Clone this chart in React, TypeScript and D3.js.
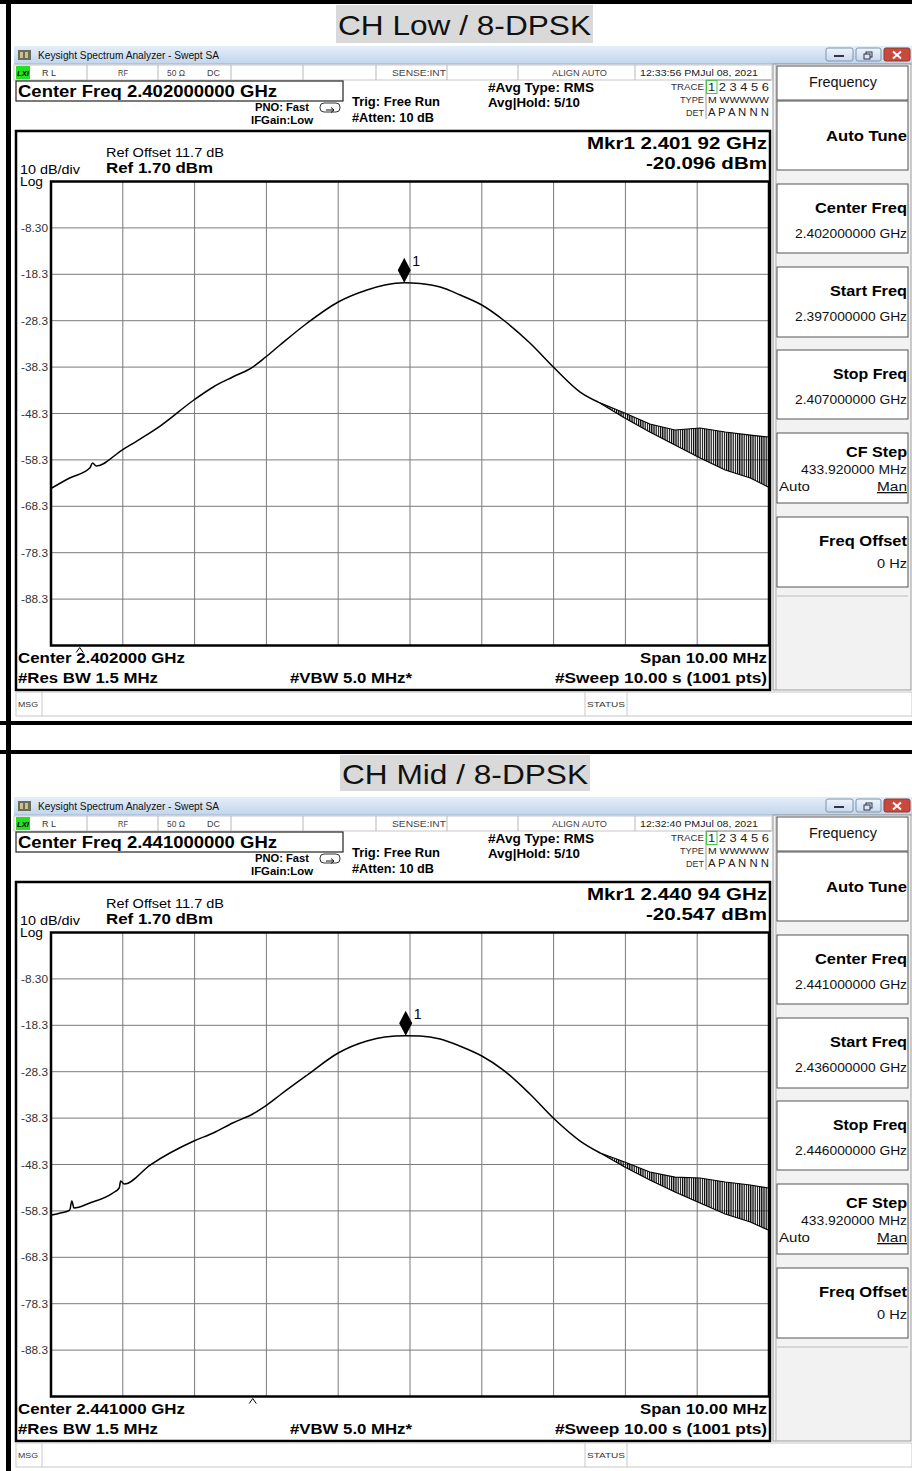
import React from "react";
import * as d3 from "d3";

const W = 912;
const H = 1471;
const PANEL_DY = 751;

// ---------- data ----------
const panelTitles = ["CH Low / 8-DPSK", "CH Mid / 8-DPSK"];
const centerFreqLabels = ["2.402000000 GHz", "2.441000000 GHz"];
const centerShortLabels = ["2.402000 GHz", "2.441000 GHz"];
const startFreqLabels = ["2.397000000 GHz", "2.436000000 GHz"];
const stopFreqLabels = ["2.407000000 GHz", "2.446000000 GHz"];
const timeStamps = ["12:33:56 PMJul 08, 2021", "12:32:40 PMJul 08, 2021"];
const markerFreqLabels = ["2.401 92 GHz", "2.440 94 GHz"];
const markerValueLabels = ["-20.096 dBm", "-20.547 dBm"];
const markerOffsetsMHz = [-0.08, -0.06];
const markerValues = [-20.096, -20.547];
const caretOffsetsMHz = [-4.6, -2.19];

const refLevel = 1.7;
const dbPerDiv = 10;
const yDivisions = 10;
const xDivisions = 10;
const spanMHz = 10;
const yTickLabels = ["-8.30", "-18.3", "-28.3", "-38.3", "-48.3", "-58.3", "-68.3", "-78.3", "-88.3"];

// CH Low trace (offset from centre in MHz, level in dBm)
const lowTraceMHz = [-4.99, -4.74, -4.46, -4.42, -4.37, -4.01, -3.76, -3.48, -3.01, -2.74, -2.47, -2.19, -2.01, -1.81, -1.43, -1.0, -0.6, -0.35, -0.08, 0.14, 0.42, 0.7, 1.0, 1.3, 1.67, 2.01, 2.37, 2.62];
const lowTraceDbm = [-64.36, -62.2, -60.05, -58.97, -59.61, -56.17, -53.8, -51.0, -45.39, -42.59, -40.43, -38.28, -36.13, -33.54, -28.8, -24.27, -21.68, -20.61, -20.1, -20.28, -21.04, -22.76, -24.92, -28.15, -33.11, -38.49, -43.67, -45.82];
const lowNoiseMHz = [2.62, 2.99, 3.34, 3.69, 4.04, 4.39, 4.74, 4.99];
const lowNoiseUpper = [-45.82, -48.19, -50.56, -51.86, -51.43, -52.29, -52.94, -53.37];
const lowNoiseLower = [-45.82, -49.27, -52.29, -55.09, -57.89, -60.48, -62.2, -64.14];

// CH Mid trace
const midTraceMHz = [-4.99, -4.87, -4.74, -4.71, -4.68, -4.46, -4.14, -4.05, -4.03, -3.98, -3.62, -3.01, -2.74, -2.47, -2.19, -2.01, -1.81, -1.43, -1.0, -0.6, -0.35, -0.06, 0.14, 0.42, 0.7, 1.0, 1.3, 1.67, 2.01, 2.37, 2.65];
const midTraceDbm = [-59.19, -58.76, -58.11, -56.17, -57.68, -56.6, -54.45, -53.37, -51.86, -52.5, -48.41, -43.24, -41.51, -39.36, -37.42, -35.69, -33.32, -29.01, -24.27, -21.69, -20.83, -20.55, -20.61, -21.25, -22.81, -24.92, -27.94, -33.11, -38.5, -43.24, -45.83];
const midNoiseMHz = [2.65, 2.99, 3.34, 3.69, 4.04, 4.39, 4.74, 4.99];
const midNoiseUpper = [-45.83, -47.76, -49.92, -51.0, -51.21, -52.07, -52.72, -53.37];
const midNoiseLower = [-45.83, -48.84, -51.64, -54.23, -56.6, -58.97, -60.7, -62.42];

const traceMHz = [lowTraceMHz, midTraceMHz];
const traceDbm = [lowTraceDbm, midTraceDbm];
const noiseMHz = [lowNoiseMHz, midNoiseMHz];
const noiseUpper = [lowNoiseUpper, midNoiseUpper];
const noiseLower = [lowNoiseLower, midNoiseLower];

// ---------- helpers ----------
type TP = {
  x: number; y: number; w?: number; s?: number; b?: boolean; a?: "start" | "middle" | "end";
  fill?: string; deco?: string; it?: boolean; children: React.ReactNode;
};
function T({ x, y, w, s = 12, b = false, a = "start", fill = "#000", deco, it, children }: TP) {
  let x0 = x;
  if (w) {
    if (a === "end") x0 = x - w;
    else if (a === "middle") x0 = x - w / 2;
  }
  return (
    <text
      x={x0}
      y={y}
      fontSize={s}
      fontWeight={b ? "bold" : "normal"}
      fontStyle={it ? "italic" : "normal"}
      textAnchor={w ? "start" : a}
      fill={fill}
      textLength={w}
      lengthAdjust={w ? "spacingAndGlyphs" : undefined}
      textDecoration={deco}
    >
      {children}
    </text>
  );
}

const GX0 = 51, GX1 = 769, GY0 = 181.5, GY1 = 645.5;
const xScale = d3.scaleLinear().domain([-spanMHz / 2, spanMHz / 2]).range([GX0, GX1]);
const yScale = d3.scaleLinear().domain([refLevel - dbPerDiv * yDivisions, refLevel]).range([GY1, GY0]);

function Panel({ i }: { i: number }) {
  const pts: [number, number][] = traceMHz[i].map((f, k) => [xScale(f), yScale(traceDbm[i][k])]);
  const line = d3.line().curve(d3.curveMonotoneX);
  const nIdx = d3.range(noiseMHz[i].length);
  const area = d3
    .area<number>()
    .x((k) => xScale(noiseMHz[i][k]))
    .y0((k) => yScale(noiseLower[i][k]))
    .y1((k) => yScale(noiseUpper[i][k]));
  const upLine = d3.line<number>().x((k) => xScale(noiseMHz[i][k])).y((k) => yScale(noiseUpper[i][k]));
  const loLine = d3.line<number>().x((k) => xScale(noiseMHz[i][k])).y((k) => yScale(noiseLower[i][k]));

  const xTicks = d3.range(1, xDivisions).map((k) => -spanMHz / 2 + (k * spanMHz) / xDivisions);
  const yTicks = d3.range(1, yDivisions).map((k) => refLevel - k * dbPerDiv);

  const mx = xScale(markerOffsetsMHz[i]);
  const my = yScale(markerValues[i]);
  const cx = xScale(caretOffsetsMHz[i]);

  const softkeys = [
    { y0: 184, y1: 253, title: "Center Freq", tw: 92, val: centerFreqLabels[i], vw: 112 },
    { y0: 267, y1: 337, title: "Start Freq", tw: 77, val: startFreqLabels[i], vw: 112 },
    { y0: 350, y1: 419, title: "Stop Freq", tw: 74, val: stopFreqLabels[i], vw: 112 },
  ];
  const statusSeps = [87, 158, 231, 303, 376, 447, 518, 635];

  return (
    <g transform={`translate(0,${i * PANEL_DY})`}>
      {/* screenshot background */}
      <rect x={14} y={46} width={898} height={672} fill="#fff" />
      {/* title bar */}
      <rect x={14} y={46} width={898} height={18} fill="url(#tbar)" />
      <line x1={14} x2={912} y1={64} y2={64} stroke="#9fb3cc" />
      <rect x={18} y={50} width={13} height={10} fill="#6b6b5a" />
      <rect x={20} y={52} width={3} height={6} fill="#c9c28a" />
      <rect x={25} y={52} width={3} height={6} fill="#c9c28a" />
      <T x={38} y={58.5} w={181} s={10} fill="#111">Keysight Spectrum Analyzer - Swept SA</T>
      <rect x={826} y={48} width={27} height={13} rx={2} fill="url(#btn)" stroke="#7d93b2" />
      <rect x={834} y={55} width={10} height={2} fill="#334" />
      <rect x={856} y={48} width={25} height={13} rx={2} fill="url(#btn)" stroke="#7d93b2" />
      <rect x={866} y={52} width={6} height={5} fill="none" stroke="#334" />
      <rect x={864} y={54} width={6} height={5} fill="#dbe6f4" stroke="#334" />
      <rect x={884} y={48} width={26} height={13} rx={2} fill="#c9493c" stroke="#8a3a33" />
      <path d="M893,51.5 L901,58.5 M901,51.5 L893,58.5" stroke="#fff" strokeWidth={2} />

      {/* status row */}
      <rect x={14} y={65} width={758} height={15} fill="#fff" stroke="#c8c8c8" />
      {statusSeps.map((sx) => (
        <line key={sx} x1={sx} x2={sx} y1={65} y2={80} stroke="#b8b8b8" />
      ))}
      <rect x={16} y={66} width={14} height={13} fill="#22e022" />
      <T x={17} y={76} w={12} s={8} b it>LXI</T>
      <T x={42} y={76} w={14} s={9} fill="#333">R L</T>
      <T x={118} y={76} w={10} s={9} fill="#444">RF</T>
      <T x={167} y={76} w={18} s={9} fill="#444">50 Ω</T>
      <T x={207} y={76} w={13} s={9} fill="#444">DC</T>
      <T x={446} y={76} w={54} s={9} a="end" fill="#444">SENSE:INT</T>
      <T x={552} y={76} w={55} s={9} fill="#444">ALIGN AUTO</T>
      <T x={640} y={76} w={118} s={9} fill="#222">{timeStamps[i]}</T>

      {/* header */}
      <rect x={16} y={81} width={327} height={20} fill="none" stroke="#222" strokeWidth={1.2} />
      <T x={18} y={97} w={259} s={16} b>{`Center Freq ${centerFreqLabels[i]}`}</T>
      <T x={255} y={111} w={54} s={11} b>PNO: Fast</T>
      <T x={251} y={124} w={62} s={11} b>IFGain:Low</T>
      <rect x={320} y={103} width={20} height={9} rx={4} fill="none" stroke="#333" />
      <path d="M326,110 L334,110 M331,107.5 L334,110 L331,112.5" stroke="#111" fill="none" />
      <T x={352} y={106} w={88} s={12} b>Trig: Free Run</T>
      <T x={352} y={122} w={82} s={12} b>#Atten: 10 dB</T>
      <T x={488} y={92} w={106} s={12} b>#Avg Type: RMS</T>
      <T x={488} y={107} w={92} s={12} b>Avg|Hold: 5/10</T>
      <T x={704} y={90} w={33} s={9} a="end" fill="#333">TRACE</T>
      <T x={704} y={103} w={24} s={9} a="end" fill="#333">TYPE</T>
      <T x={704} y={116} w={18} s={9} a="end" fill="#333">DET</T>
      <line x1={706} x2={706} y1={80} y2={119} stroke="#999" />
      <line x1={706} x2={771} y1={80} y2={80} stroke="#999" />
      <rect x={706.5} y={80.5} width={10.5} height={13} fill="none" stroke="#4cc44c" />
      <T x={708} y={91} w={61} s={11} fill="#222">1 2 3 4 5 6</T>
      <T x={708} y={103} w={61} s={9} fill="#222">M WWWWW</T>
      <T x={708} y={116} w={61} s={10} fill="#222">A P A N N N</T>

      {/* graph frame */}
      <rect x={16} y={131} width={754} height={559} fill="#fff" stroke="#000" strokeWidth={2.5} />
      <T x={106} y={157} w={118} s={12}>Ref Offset 11.7 dB</T>
      <T x={106} y={173} w={107} s={14} b>Ref 1.70 dBm</T>
      <T x={20} y={174} w={60} s={12}>10 dB/div</T>
      <T x={20} y={186} w={23} s={12}>Log</T>
      <T x={767} y={149} w={180} s={17} b a="end">{`Mkr1 ${markerFreqLabels[i]}`}</T>
      <T x={767} y={169} w={121} s={17} b a="end">{markerValueLabels[i]}</T>

      {/* grid */}
      {xTicks.map((f) => (
        <line key={"v" + f} x1={xScale(f)} x2={xScale(f)} y1={GY0} y2={GY1} stroke="#7a7a7a" strokeWidth={1} />
      ))}
      {yTicks.map((v) => (
        <line key={"h" + v} x1={GX0} x2={GX1} y1={yScale(v)} y2={yScale(v)} stroke="#7a7a7a" strokeWidth={1} />
      ))}
      {yTicks.map((v, k) => (
        <T key={"t" + v} x={48} y={yScale(v) + 4} w={27} s={10} a="end" fill="#333">
          {yTickLabels[k]}
        </T>
      ))}
      <rect x={GX0} y={GY0} width={GX1 - GX0} height={GY1 - GY0} fill="none" stroke="#000" strokeWidth={2.5} />

      {/* trace */}
      <path d={area(nIdx) || ""} fill="url(#stripes)" />
      <path d={upLine(nIdx) || ""} fill="none" stroke="#000" strokeWidth={1.2} />
      <path d={loLine(nIdx) || ""} fill="none" stroke="#000" strokeWidth={1.2} />
      <path d={line(pts) || ""} fill="none" stroke="#000" strokeWidth={1.5} />

      {/* marker */}
      <path d={`M${mx},${my - 25} L${mx + 6.5},${my - 12.5} L${mx},${my} L${mx - 6.5},${my - 12.5} Z`} fill="#000" />
      <T x={mx + 8} y={my - 17} s={14}>1</T>

      {/* caret */}
      <path d={`M${cx - 3.5},${GY1 + 7} L${cx},${GY1 + 2} L${cx + 3.5},${GY1 + 7}`} fill="none" stroke="#000" strokeWidth={1} />

      {/* footer */}
      <T x={18} y={663} w={167} s={14} b>{`Center ${centerShortLabels[i]}`}</T>
      <T x={18} y={683} w={140} s={14} b>#Res BW 1.5 MHz</T>
      <T x={290} y={683} w={122} s={14} b>#VBW 5.0 MHz*</T>
      <T x={767} y={663} w={127} s={14} b a="end">Span 10.00 MHz</T>
      <T x={767} y={683} w={212} s={14} b a="end">#Sweep  10.00 s (1001 pts)</T>

      {/* msg bar */}
      <rect x={16} y={692} width={896} height={24} fill="#fff" stroke="#c8c8c8" />
      <line x1={42} x2={42} y1={692} y2={716} stroke="#c8c8c8" />
      <line x1={585} x2={585} y1={692} y2={716} stroke="#c8c8c8" />
      <line x1={627} x2={627} y1={692} y2={716} stroke="#c8c8c8" />
      <T x={18} y={707} w={20} s={8} fill="#333">MSG</T>
      <T x={587} y={707} w={38} s={8} fill="#333">STATUS</T>

      {/* softkeys */}
      <rect x={773} y={64} width={138} height={626} fill="#f2f2f2" stroke="#9a9a9a" />
      <line x1={776} x2={776} y1={64} y2={690} stroke="#b0b0b0" />
      <rect x={777} y={66} width={131} height={34} fill="#fff" stroke="#555" />
      <T x={843} y={87} w={68} s={14} a="middle" fill="#111">Frequency</T>
      <rect x={777} y={101} width={131} height={69} fill="#fff" stroke="#555" />
      <T x={907} y={141} w={81} s={15} b a="end">Auto Tune</T>
      {softkeys.map((sk) => (
        <g key={sk.title}>
          <rect x={777} y={sk.y0} width={131} height={sk.y1 - sk.y0} fill="#fff" stroke="#555" />
          <T x={907} y={sk.y0 + 29} w={sk.tw} s={15} b a="end">{sk.title}</T>
          <T x={907} y={sk.y0 + 54} w={sk.vw} s={13} a="end" fill="#111">{sk.val}</T>
        </g>
      ))}
      <rect x={777} y={433} width={131} height={70} fill="#fff" stroke="#555" />
      <T x={907} y={457} w={61} s={15} b a="end">CF Step</T>
      <T x={907} y={474} w={106} s={13} a="end" fill="#111">433.920000 MHz</T>
      <T x={779} y={491} w={31} s={13} fill="#111">Auto</T>
      <T x={907} y={491} w={30} s={13} a="end" fill="#111" deco="underline">Man</T>
      <rect x={777} y={517} width={131} height={70} fill="#fff" stroke="#555" />
      <T x={907} y={546} w={88} s={15} b a="end">Freq Offset</T>
      <T x={907} y={568} w={30} s={13} a="end" fill="#111">0 Hz</T>
      <line x1={777} x2={908} y1={596} y2={596} stroke="#bbb" />
    </g>
  );
}

export default function App() {
  return (
    <svg
      width={W}
      height={H}
      viewBox={`0 0 ${W} ${H}`}
      style={{ position: "absolute", left: 0, top: 0, background: "#fff" }}
      fontFamily="'Liberation Sans', Arial, sans-serif"
    >
      <defs>
        <linearGradient id="tbar" x1="0" y1="0" x2="0" y2="1">
          <stop offset="0" stopColor="#e4eef9" />
          <stop offset="1" stopColor="#c2d5eb" />
        </linearGradient>
        <linearGradient id="btn" x1="0" y1="0" x2="0" y2="1">
          <stop offset="0" stopColor="#eef4fb" />
          <stop offset="1" stopColor="#c9d9ee" />
        </linearGradient>
        <pattern id="stripes" width={2.2} height={10} patternUnits="userSpaceOnUse">
          <rect x={0} y={0} width={1.2} height={10} fill="#000" />
        </pattern>
      </defs>
      <rect x={0} y={0} width={W} height={H} fill="#fff" />

      {/* titles */}
      <rect x={336} y={5} width={257} height={38} fill="#d9d9d9" />
      <T x={338} y={35} w={253} s={28} fill="#111">{panelTitles[0]}</T>
      <rect x={340} y={755} width={250} height={36} fill="#d9d9d9" />
      <T x={342} y={784} w={246} s={28} fill="#111">{panelTitles[1]}</T>

      <Panel i={0} />
      <Panel i={1} />

      {/* black frame bars */}
      <rect x={0} y={0} width={W} height={4} fill="#000" />
      <rect x={0} y={721} width={W} height={4} fill="#000" />
      <rect x={0} y={750} width={W} height={4} fill="#000" />
      <rect x={6} y={0} width={5} height={H} fill="#000" />
    </svg>
  );
}
